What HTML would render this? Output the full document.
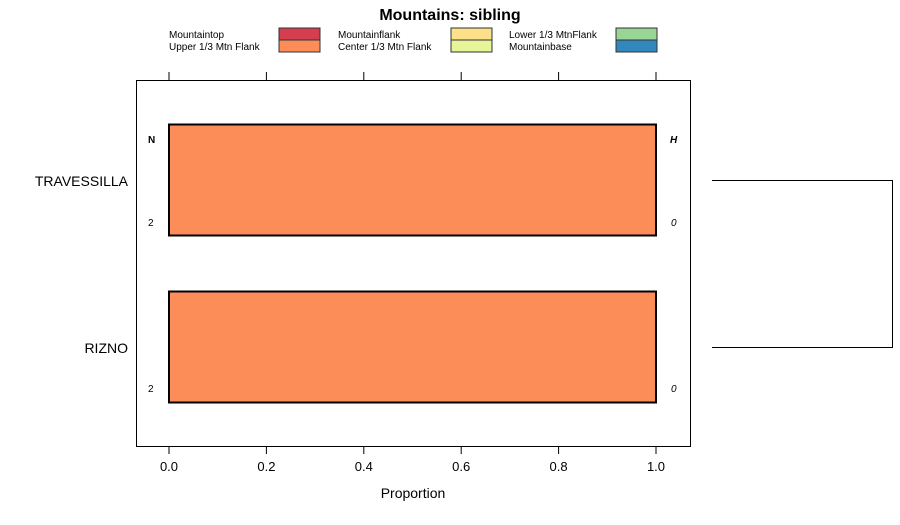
<!DOCTYPE html>
<html><head><style>body{margin:0;background:#fff}svg{font-family:"Liberation Sans",sans-serif}</style></head><body>
<svg width="900" height="520" xmlns="http://www.w3.org/2000/svg">
<rect width="900" height="520" fill="#fff"/>
<text x="450" y="20" text-anchor="middle" font-size="16" font-weight="bold">Mountains: sibling</text>
<g font-size="10" fill="#000">
<text x="169" y="38">Mountaintop</text>
<text x="169" y="50">Upper 1/3 Mtn Flank</text>
<text x="338" y="38">Mountainflank</text>
<text x="338" y="50">Center 1/3 Mtn Flank</text>
<text x="509" y="38">Lower 1/3 MtnFlank</text>
<text x="509" y="50">Mountainbase</text>
</g>
<g stroke="#333" stroke-width="1">
<rect x="279" y="28" width="41" height="12" fill="#D53E4F"/>
<rect x="279" y="40" width="41" height="12" fill="#FC8D59"/>
<rect x="451" y="28" width="41" height="12" fill="#FEE08B"/>
<rect x="451" y="40" width="41" height="12" fill="#E6F598"/>
<rect x="616" y="28" width="41" height="12" fill="#99D594"/>
<rect x="616" y="40" width="41" height="12" fill="#3288BD"/>
</g>
<rect x="136.5" y="80.5" width="554" height="366" fill="none" stroke="#000"/>
<g stroke="#000">
<line x1="169" y1="72" x2="169" y2="80"/><line x1="266.4" y1="72" x2="266.4" y2="80"/><line x1="363.8" y1="72" x2="363.8" y2="80"/><line x1="461.2" y1="72" x2="461.2" y2="80"/><line x1="558.6" y1="72" x2="558.6" y2="80"/><line x1="656" y1="72" x2="656" y2="80"/>
<line x1="169" y1="446" x2="169" y2="454"/><line x1="266.4" y1="446" x2="266.4" y2="454"/><line x1="363.8" y1="446" x2="363.8" y2="454"/><line x1="461.2" y1="446" x2="461.2" y2="454"/><line x1="558.6" y1="446" x2="558.6" y2="454"/><line x1="656" y1="446" x2="656" y2="454"/>
</g>
<g font-size="13" text-anchor="middle">
<text x="169" y="471">0.0</text><text x="266.4" y="471">0.2</text><text x="363.8" y="471">0.4</text><text x="461.2" y="471">0.6</text><text x="558.6" y="471">0.8</text><text x="656" y="471">1.0</text>
<text x="413" y="498" font-size="14">Proportion</text>
</g>
<rect x="169" y="124.5" width="487" height="111" fill="#FC8D59" stroke="#000" stroke-width="2"/>
<rect x="169" y="291.5" width="487" height="111" fill="#FC8D59" stroke="#000" stroke-width="2"/>
<g font-size="14" text-anchor="end">
<text x="128" y="186">TRAVESSILLA</text>
<text x="128" y="353">RIZNO</text>
</g>
<g font-size="10">
<text x="148" y="143" font-weight="bold">N</text>
<text x="670" y="143" font-weight="bold" font-style="italic">H</text>
<text x="148" y="226">2</text><text x="671" y="226" font-style="italic">0</text>
<text x="148" y="392">2</text><text x="671" y="392" font-style="italic">0</text>
</g>
<polyline points="712,180.5 892.5,180.5 892.5,347.5 712,347.5" fill="none" stroke="#000"/>
</svg>
</body></html>
